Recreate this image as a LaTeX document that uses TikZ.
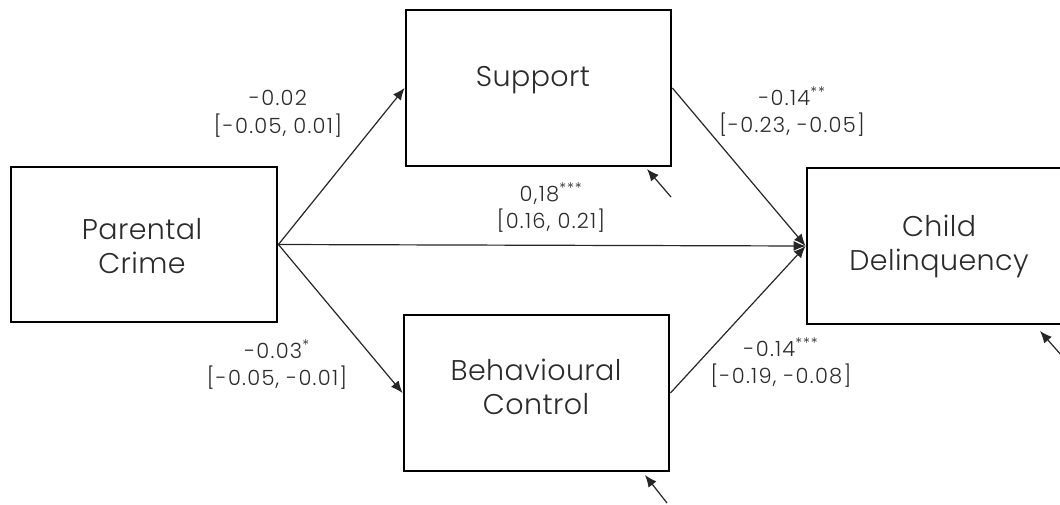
\documentclass[tikz,border=0pt]{standalone}
\usepackage{fontspec}
\setmainfont{Poppins}[UprightFont=* Light]
\usetikzlibrary{arrows.meta}
\definecolor{ink}{HTML}{2B2B2B}
\tikzset{
  box/.style={draw=black, line width=2.8pt, rectangle, inner sep=0pt},
  lbl/.style={font=\fontsize{28.5}{34}\selectfont\addfontfeatures{LetterSpace=1.5}, text=ink, align=center, inner sep=0pt},
  coef/.style={font=\fontsize{21}{27.5}\selectfont\addfontfeatures{LetterSpace=6}, text=ink, align=center, inner sep=0pt},
  path/.style={draw=black!85, line width=1.2pt, -{Latex[length=12pt,width=10pt]}},
}
\begin{document}
\begin{tikzpicture}[x=1pt,y=-1pt]
\useasboundingbox (0,0) rectangle (1060,504);
\clip (0,0) rectangle (1060,504);
\fill[white] (0,0) rectangle (1060,504);
% boxes
\node[box, minimum width=266pt, minimum height=155pt] (pc) at (144,244.5) {};
\node[box, minimum width=265pt, minimum height=156pt] (sup) at (538.5,88) {};
\node[box, minimum width=265pt, minimum height=156pt] (bc) at (536.5,393) {};
\node[box, minimum width=268pt, minimum height=156pt] (cd) at (941,246) {};
% box texts
\node[lbl, anchor=base] (tsup) at (533,86) {Support};
\node[lbl] (tpc) at (142,246) {Parental\\Crime};
\node[lbl] (tbc) at (536,387) {Behavioural\\Control};
\node[lbl] (tcd) at (939,246) {Child\\Delinquency};
% paths
\draw[path] (pc.east) -- (sup.west);
\draw[path] (pc.east) -- (bc.west);
\draw[path] (pc.east) -- (cd.west);
\draw[path] (sup.east) -- (cd.west);
\draw[path] (bc.east) -- (cd.west);
% residual arrows
\coordinate (rs) at (671,197);
\coordinate (rb) at (667,503);
\coordinate (rc) at (1062,356);
\coordinate (hs) at (647,169);
\coordinate (hb) at (645,475);
\coordinate (hc) at (1040,331);
\draw[path] (rs) -- (hs);
\draw[path] (rb) -- (hb);
\draw[path] (rc) -- (hc);
% coefficients
\node[coef] (c1) at (278,114) {-0.02\\{}[-0.05, 0.01]};
\node[coef] (c2) at (551,208) {0,18\textsuperscript{***}\\{}[0.16, 0.21]};
\node[coef] (c3) at (792,112) {-0.14\textsuperscript{**}\\{}[-0.23, -0.05]};
\node[coef] (c4) at (277,365) {-0.03\textsuperscript{*}\\{}[-0.05, -0.01]};
\node[coef] (c5) at (781,363) {-0.14\textsuperscript{***}\\{}[-0.19, -0.08]};
\end{tikzpicture}
\end{document}
